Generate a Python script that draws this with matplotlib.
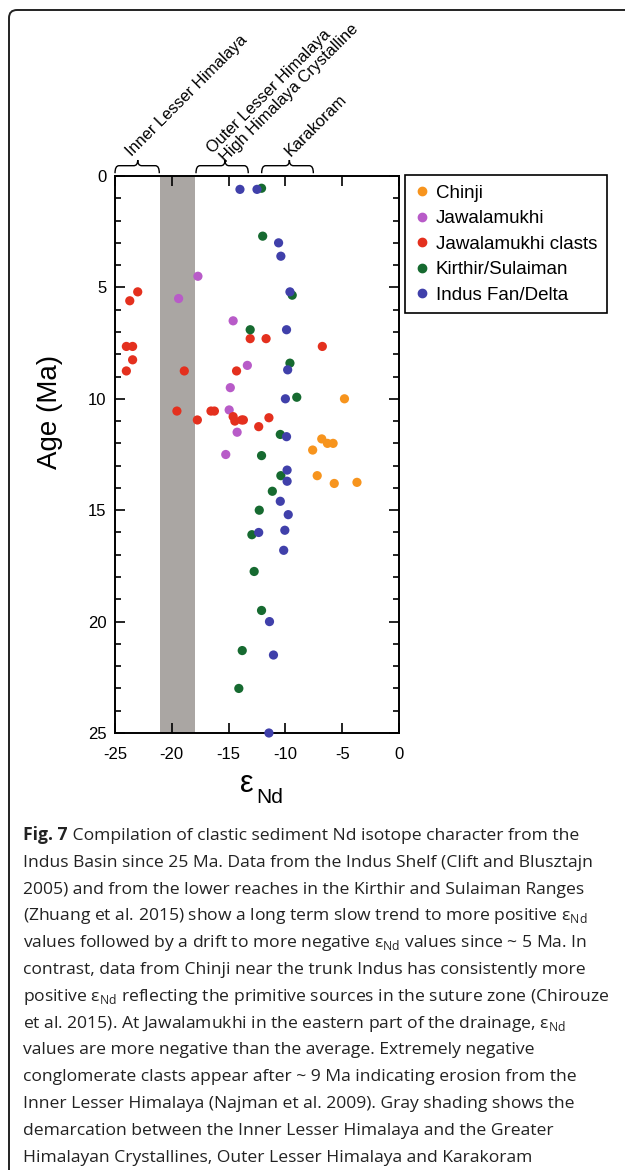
import matplotlib
matplotlib.use("Agg")
import matplotlib.pyplot as plt
from matplotlib.path import Path
from matplotlib.patches import PathPatch, FancyBboxPatch
from matplotlib.lines import Line2D
from matplotlib.transforms import blended_transform_factory
from matplotlib.ticker import MultipleLocator

plt.rcParams['font.family'] = ['Liberation Sans', 'DejaVu Sans']
plt.rcParams['mathtext.fontset'] = 'custom'
plt.rcParams['mathtext.rm'] = 'Open Sans'

# ---------------- data ----------------
chinji_eps = [-4.8, -6.8, -6.3, -5.8, -7.6, -7.2, -5.7, -3.7]
chinji_age = [10.0, 11.8, 12.0, 12.0, 12.3, 13.45, 13.8, 13.75]

jawala_eps = [-17.7, -19.4, -14.6, -13.35, -14.85, -14.95, -14.25, -15.25]
jawala_age = [4.5, 5.5, 6.5, 8.5, 9.5, 10.5, 11.5, 12.5]

clasts_eps = [-23.0, -23.7, -13.1, -11.7, -6.75, -24.0, -23.45, -23.45, -24.0,
              -18.9, -14.3, -19.55, -16.55, -16.25, -17.75, -14.6, -14.45,
              -13.85, -13.7, -11.45, -12.35]
clasts_age = [5.2, 5.6, 7.3, 7.3, 7.65, 7.65, 7.65, 8.25, 8.75,
              8.75, 8.75, 10.55, 10.55, 10.55, 10.95, 10.8, 11.0,
              10.95, 10.95, 10.85, 11.25]

kirthir_eps = [-12.1, -12.0, -9.4, -13.1, -9.6, -9.0, -10.45, -12.1, -10.4,
               -11.15, -12.3, -12.95, -12.75, -12.1, -13.8, -14.1]
kirthir_age = [0.55, 2.7, 5.35, 6.9, 8.4, 9.93, 11.6, 12.55, 13.45,
               14.15, 15.0, 16.1, 17.75, 19.5, 21.3, 23.0]

indus_eps = [-14.0, -12.5, -10.6, -10.4, -9.6, -9.9, -9.8, -10.0, -9.9, -9.85,
             -9.85, -10.45, -9.75, -12.35, -10.05, -10.15, -11.4, -11.05, -11.45]
indus_age = [0.6, 0.6, 3.0, 3.6, 5.2, 6.9, 8.7, 10.0, 11.7, 13.2,
             13.7, 14.6, 15.2, 16.0, 15.9, 16.8, 20.0, 21.5, 25.0]

series_labels = ["Chinji", "Jawalamukhi", "Jawalamukhi clasts",
                 "Kirthir/Sulaiman", "Indus Fan/Delta"]
series_colors = ["#F7941D", "#B85BC8", "#E4301E", "#166A30", "#4040AA"]

shade_range = (-21, -18)

region_names = ["Inner Lesser Himalaya", "Outer Lesser Himalaya",
                "High Himalaya Crystalline", "Karakoram"]
brace_spans = [(-25.0, -21.1, -23.0), (-17.87, -13.27, -15.32), (-12.09, -7.54, -9.65)]

x_ticks = [-25, -20, -15, -10, -5, 0]
y_ticks = [0, 5, 10, 15, 20, 25]

caption_lines = [
    "Indus Basin since 25 Ma. Data from the Indus Shelf (Clift and Blusztajn",
    "2005) and from the lower reaches in the Kirthir and Sulaiman Ranges",
    "(Zhuang et al. 2015) show a long term slow trend to more positive ε$_{\\mathrm{Nd}}$",
    "values followed by a drift to more negative ε$_{\\mathrm{Nd}}$ values since ~ 5 Ma. In",
    "contrast, data from Chinji near the trunk Indus has consistently more",
    "positive ε$_{\\mathrm{Nd}}$ reflecting the primitive sources in the suture zone (Chirouze",
    "et al. 2015). At Jawalamukhi in the eastern part of the drainage, ε$_{\\mathrm{Nd}}$",
    "values are more negative than the average. Extremely negative",
    "conglomerate clasts appear after ~ 9 Ma indicating erosion from the",
    "Inner Lesser Himalaya (Najman et al. 2009). Gray shading shows the",
    "demarcation between the Inner Lesser Himalaya and the Greater",
    "Himalayan Crystallines, Outer Lesser Himalaya and Karakoram",
]
caption_first_bold = "Fig. 7"
caption_first_rest = " Compilation of clastic sediment Nd isotope character from the"

# ---------------- figure ----------------
W, H = 625, 1170
fig = plt.figure(figsize=(W / 100, H / 100), dpi=100)

# outer rounded frame
frame = FancyBboxPatch((0.09, -1.0), 8.0, (H - 10) / 100 + 1.0,
                       boxstyle="round,pad=0,rounding_size=0.08",
                       transform=fig.dpi_scale_trans, fill=False,
                       edgecolor="#222222", linewidth=1.4)
fig.add_artist(frame)

ax = fig.add_axes([115 / W, 1 - 733 / H, 284 / W, 557 / H])
ax.axvspan(*shade_range, color="#AAA6A3", lw=0, zorder=0)

all_series = [(chinji_eps, chinji_age), (jawala_eps, jawala_age),
              (clasts_eps, clasts_age), (kirthir_eps, kirthir_age),
              (indus_eps, indus_age)]
for (xs, ys), c in zip(all_series, series_colors):
    ax.scatter(xs, ys, s=44, color=c, edgecolors="none", zorder=3, clip_on=False)

ax.set_xlim(-25, 0)
ax.set_ylim(25, 0)
ax.set_xticks(x_ticks)
ax.set_xticklabels([str(t) for t in x_ticks])
ax.set_yticks(y_ticks)
ax.set_yticklabels([str(t) for t in y_ticks])
ax.yaxis.set_minor_locator(MultipleLocator(1))
for s in ax.spines.values():
    s.set_linewidth(1.4)
ax.tick_params(axis="both", which="both", direction="in", top=True, right=True,
               labelsize=12, width=1.2)
ax.tick_params(axis="x", which="major", length=7, pad=10)
ax.tick_params(axis="y", which="major", length=7, pad=6)
ax.tick_params(axis="y", which="minor", length=4.5)

# braces above the axes
tr = blended_transform_factory(ax.transData, ax.transAxes)
yb, yl, yp, d = 1.005, 1.0185, 1.0287, 0.35
for x0, x1, xp in brace_spans:
    verts = [(x0, yb), (x0, yl), (x0 + d, yl),
             (xp - d, yl), (xp, yl), (xp, yp),
             (xp, yl), (xp + d, yl),
             (x1 - d, yl), (x1, yl), (x1, yb)]
    codes = [Path.MOVETO, Path.CURVE3, Path.CURVE3,
             Path.LINETO, Path.CURVE3, Path.CURVE3,
             Path.CURVE3, Path.CURVE3,
             Path.LINETO, Path.CURVE3, Path.CURVE3]
    ax.add_patch(PathPatch(Path(verts, codes), transform=tr, fill=False,
                           lw=1.0, edgecolor="black", clip_on=False))

label_pos = [(-23.53, 1.0347), (-16.4, 1.0389), (-15.23, 1.0239), (-9.53, 1.0336)]
for name, (lx, ly) in zip(region_names, label_pos):
    ax.text(lx, ly, name, transform=tr, rotation=45, rotation_mode="anchor",
            ha="left", va="baseline", fontsize=11.8, clip_on=False)

# axis labels
fig.text(50 / W, 1 - 412 / H, "Age (Ma)", rotation=90, ha="center", va="center",
         fontsize=20)
fig.text(240 / W, 1 - 792 / H, "ε", ha="left", va="baseline", fontsize=22)
fig.text(256 / W, 1 - 803 / H, "Nd", ha="left", va="baseline", fontsize=15)

# legend
handles = [Line2D([], [], marker="o", ls="none", color=c, markersize=6)
           for c in series_colors]
leg = fig.legend(handles, series_labels, loc="upper left",
                 bbox_to_anchor=(405 / W, 1 - 175 / H), frameon=True, fancybox=False,
                 edgecolor="black", framealpha=1, fontsize=13.5, borderpad=0.5,
                 labelspacing=0.45, handlelength=0.8, handletextpad=0.35,
                 borderaxespad=0)
leg.get_frame().set_linewidth(1.2)

# caption
cap_font = dict(family=["Open Sans", "DejaVu Sans"], fontsize=12.6, color="#222222")
x0c = 23 / W
base0 = 840
step = 26.8
renderer = fig.canvas.get_renderer()
tb = fig.text(x0c, 1 - base0 / H, caption_first_bold, ha="left", va="baseline",
              fontweight="bold", **cap_font)
bb = tb.get_window_extent(renderer=renderer)
fig.text(bb.x1 / W, 1 - base0 / H, caption_first_rest, ha="left", va="baseline",
         **cap_font)
for i, line in enumerate(caption_lines, start=1):
    fig.text(x0c, 1 - (base0 + i * step) / H, line, ha="left", va="baseline",
             **cap_font)

fig.savefig("out.png", dpi=100)
